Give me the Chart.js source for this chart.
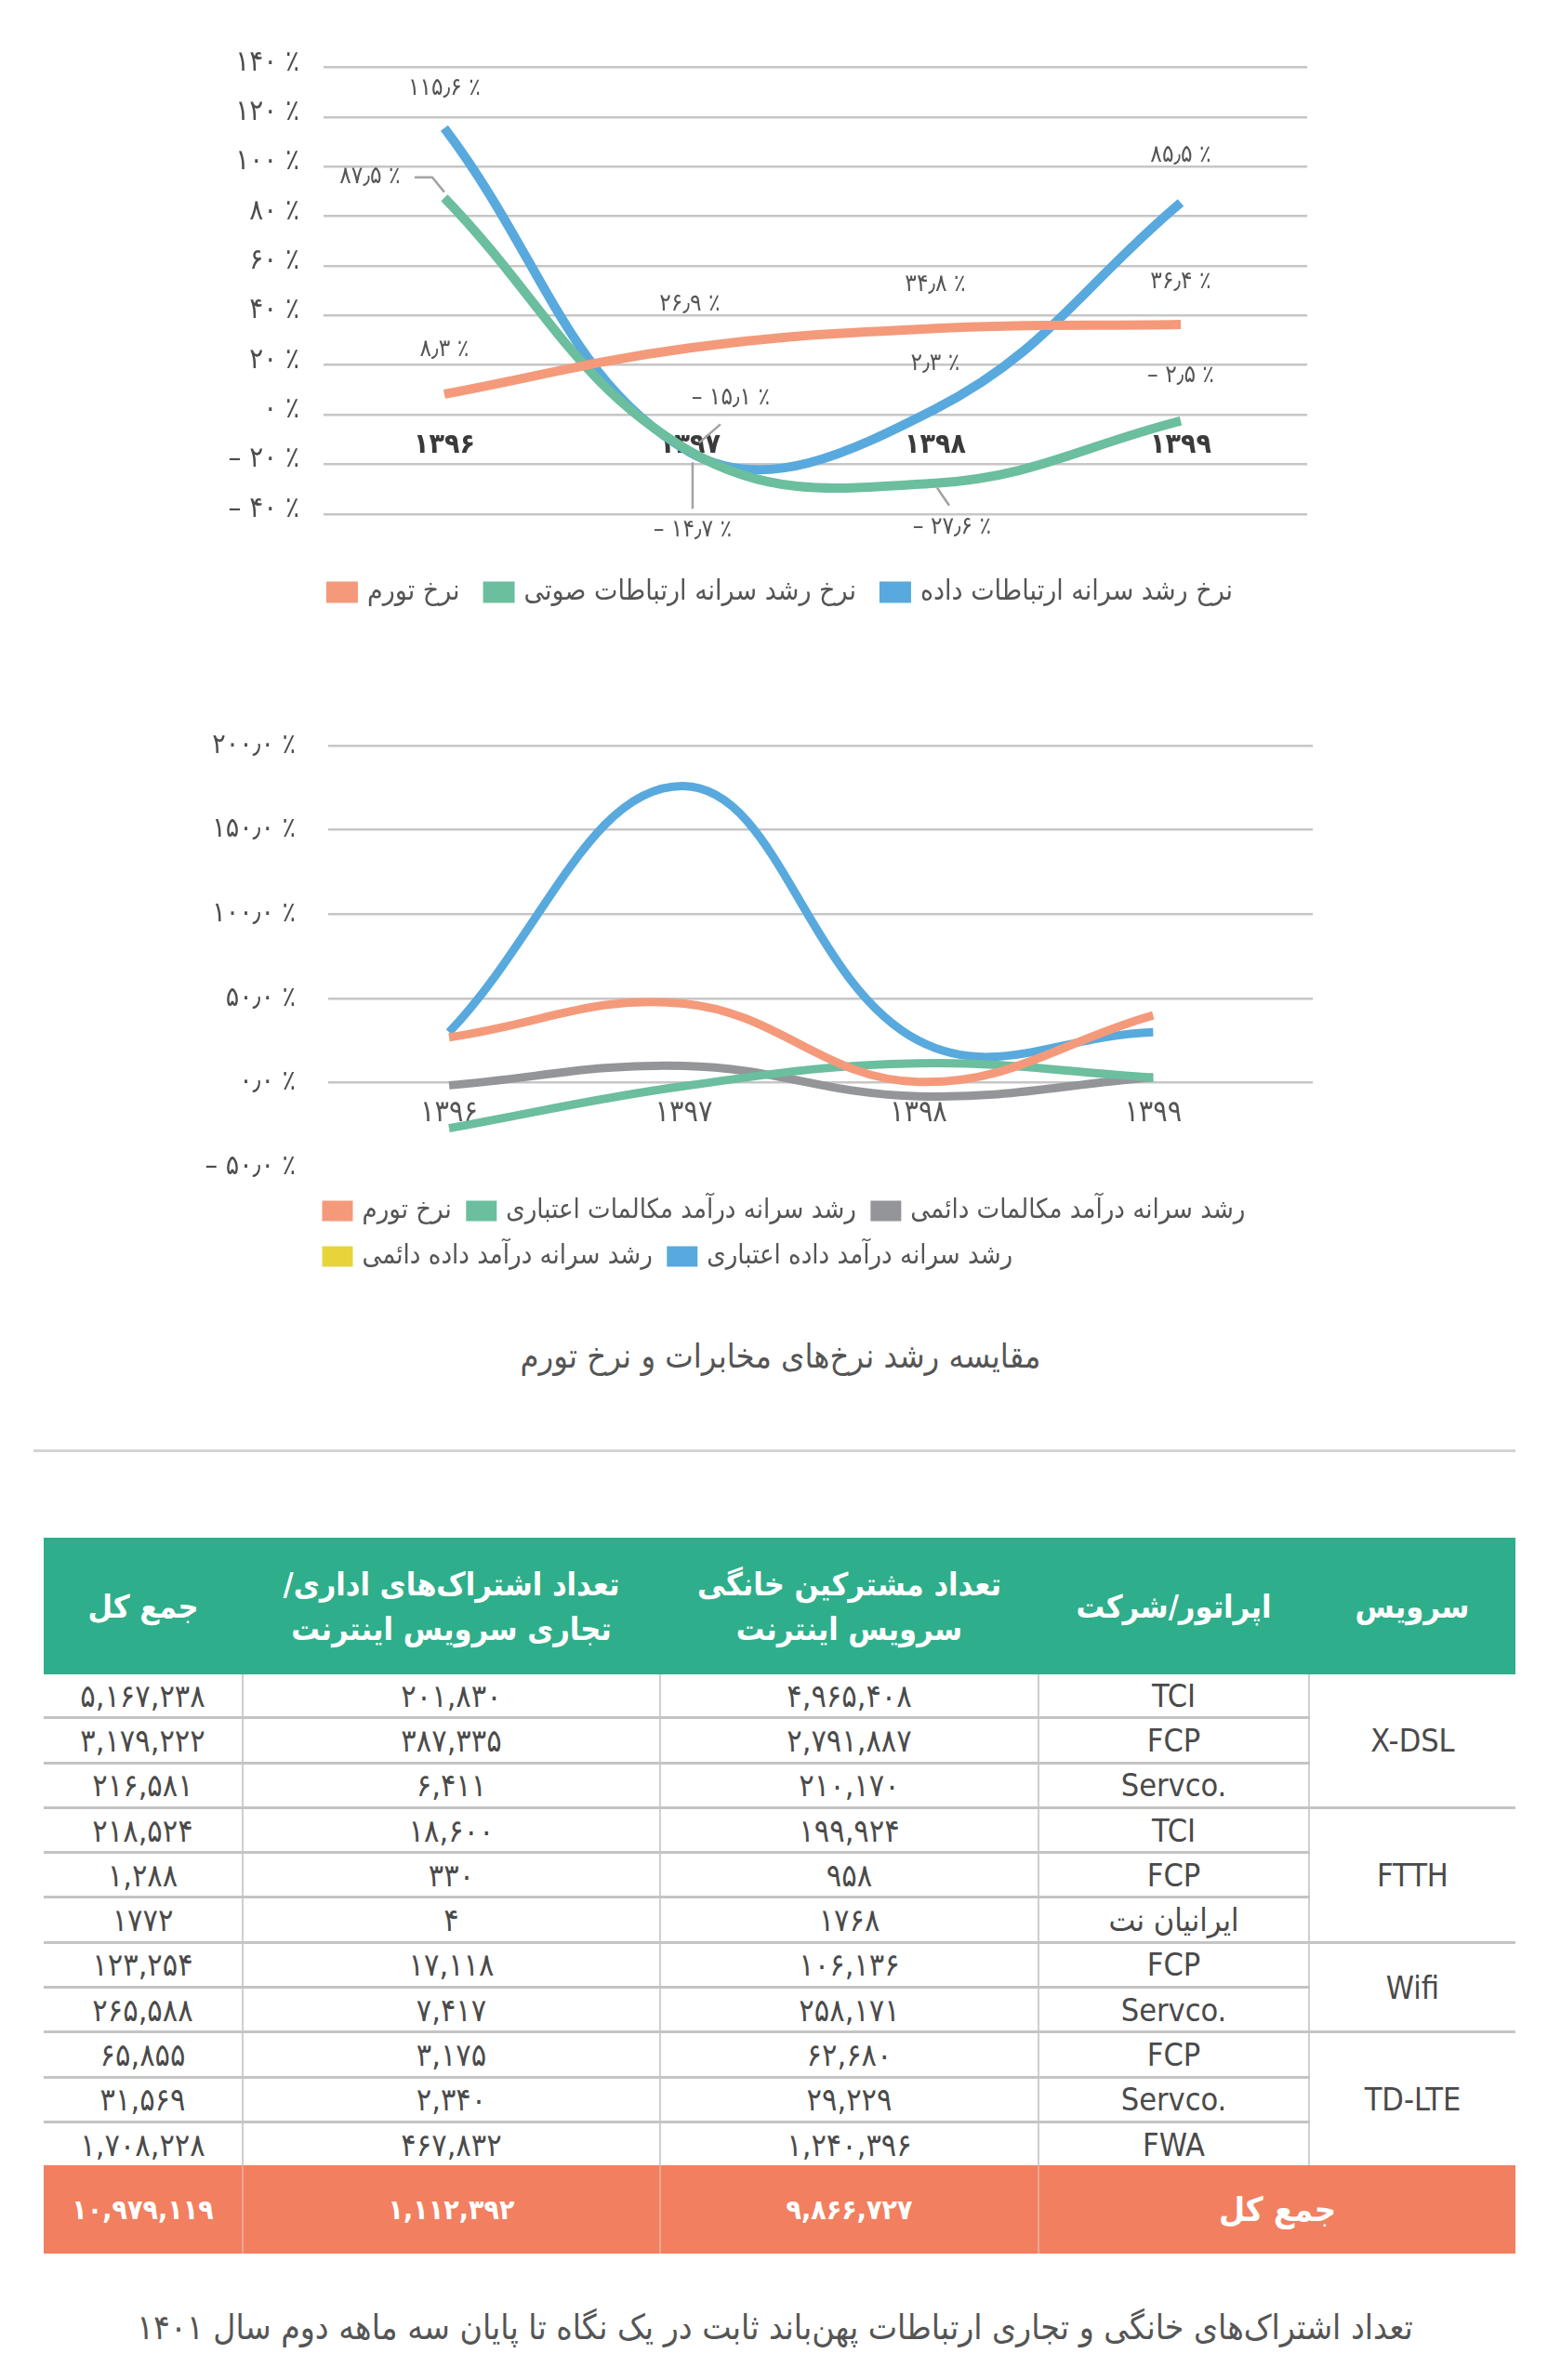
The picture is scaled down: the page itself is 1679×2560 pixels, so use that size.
<!DOCTYPE html>
<html lang="fa">
<head>
<meta charset="utf-8">
<title>مقایسه رشد نرخ‌های مخابرات و نرخ تورم</title>
<script src="https://cdn.jsdelivr.net/npm/chart.js"></script>
<style>
  body { margin: 0; width: 1679px; height: 2560px; background: #fff; position: relative;
         font-family: "DejaVu Sans Condensed", "DejaVu Sans", sans-serif; }
  .chart-box { position: absolute; }
  #topBox { left: 200px; top: 28px; width: 1230px; height: 634px; }
  #bottomBox { left: 200px; top: 749px; width: 1236px; height: 627px; }
  .caption { position: absolute; left: 0; width: 1679px; text-align: center; direction: rtl; color: #555; }
  #cap1 { top: 1436px; font-size: 36px; line-height: 46px; }
  #cap2 { top: 2480px; font-size: 37px; line-height: 48px; left: -6px; }
  #rule { position: absolute; left: 36px; top: 1559px; width: 1594px; height: 3px; background: #d4d4d4; }
  table { position: absolute; left: 47px; top: 1654px; width: 1583px; border-collapse: collapse;
          table-layout: fixed; direction: rtl; }
  th { background: #2eae8a; color: #fff; font-weight: bold; font-size: 34px; line-height: 48px;
       height: 147px; padding: 0; text-align: center; }
  td { height: 45.3px; line-height: 44px; padding: 0; text-align: center; font-size: 34px; color: #4a4a4a;
       unicode-bidi: plaintext;
       border-left: 2px solid #cfcfcf; border-bottom: 3px solid #c4c4c4; }
  td.last-col { border-left: none; }
  tr.last-row td { border-bottom: none; }
  td.group.end { border-bottom: none; }
  tr.total td { background: #f27f5f; color: #fff; font-weight: bold; font-size: 30px; height: 95px;
                border-bottom: none; border-left: 2px solid #e7a892; }
  tr.total td.last-col { border-left: none; }
  tr.total td.label { font-size: 36px; }
</style>
</head>
<body>
<div id="topBox" class="chart-box"><canvas id="topChart"></canvas></div>
<div id="bottomBox" class="chart-box"><canvas id="bottomChart"></canvas></div>
<div id="cap1" class="caption">مقایسه رشد نرخ‌های مخابرات و نرخ تورم</div>
<div id="rule"></div>
<table id="subsTable"></table>
<div id="cap2" class="caption">تعداد اشتراک‌های خانگی و تجاری ارتباطات پهن‌باند ثابت در یک نگاه تا پایان سه ماهه دوم سال ۱۴۰۱</div>

<script>
// ---- data ----
const years = ['۱۳۹۶', '۱۳۹۷', '۱۳۹۸', '۱۳۹۹'];

// top chart: growth rates (%)
const inflationTop = [8.3, 26.9, 34.8, 36.4];
const voiceGrowth = [87.5, -14.7, -27.6, -2.5];
const dataGrowth = [115.6, -15.1, 2.3, 85.5];

// bottom chart: per-capita revenue growth (%)
const inflationBottom = [27, 47, 0.5, 40];
const voicePrepaid = [-27, -2, 11.5, 3];
const voicePostpaid = [-1.5, 10, -8, 3.3];
const dataPostpaid = [null, null, null, null];
const dataPrepaid = [30, 176, 25, 30];

// table
const serviceGroups = [['X-DSL', 3], ['FTTH', 3], ['Wifi', 2], ['TD-LTE', 3]];
const operators = ['TCI', 'FCP', 'Servco.', 'TCI', 'FCP', 'ایرانیان نت', 'FCP', 'Servco.', 'FCP', 'Servco.', 'FWA'];
const homeSubs = ['4,965,408', '2,791,887', '210,170', '199,924', '958', '1768', '106,136', '258,171', '62,680', '29,229', '1,240,396'];
const businessSubs = ['201,830', '387,335', '6,411', '18,600', '330', '4', '17,118', '7,417', '3,175', '2,340', '467,832'];
const rowTotals = ['5,167,238', '3,179,222', '216,581', '218,524', '1,288', '1772', '123,254', '265,588', '65,855', '31,569', '1,708,228'];
const grandTotals = ['9,866,727', '1,112,392', '10,979,119'];

// ---- helpers ----
const faDigits = s => String(s).replace(/\d/g, d => '۰۱۲۳۴۵۶۷۸۹'[d]);
function pct(v, decimals) {
  const s = Math.abs(v).toFixed(decimals).replace('.', '٫');
  return (v < 0 ? '– ' : '') + faDigits(s) + ' ٪';
}
const asPoints = arr => arr.map((v, i) => ({ x: i, y: v }));

const FONT = '"DejaVu Sans Condensed", "DejaVu Sans", sans-serif';
Chart.defaults.font.family = FONT;
Chart.defaults.color = '#555';

const BLUE = '#58a9dd', GREEN = '#6bbe9e', ORANGE = '#f49a7b', GRAY = '#949598', YELLOW = '#e6d43a';

function line(label, values, color, width) {
  return {
    label, data: asPoints(values), borderColor: color, backgroundColor: color,
    borderWidth: width, pointRadius: 0, tension: 0.4, fill: false
  };
}

// value labels with leader lines (offsets from the point, px)
const pointLabels = {
  id: 'pointLabels',
  afterDatasetsDraw(chart, args, opts) {
    if (!opts.spots) return;
    const { ctx } = chart;
    ctx.save();
    ctx.font = opts.font;
    ctx.fillStyle = opts.color;
    ctx.textAlign = 'center';
    ctx.textBaseline = 'middle';
    ctx.strokeStyle = '#a3a3a3';
    ctx.lineWidth = 2.5;
    chart.data.datasets.forEach((ds, di) => {
      const spots = opts.spots[di];
      chart.getDatasetMeta(di).data.forEach((pt, i) => {
        const s = spots[i];
        if (s.lead) {
          ctx.beginPath();
          s.lead.forEach(([lx, ly], k) => k ? ctx.lineTo(pt.x + lx, pt.y + ly) : ctx.moveTo(pt.x + lx, pt.y + ly));
          ctx.stroke();
        }
        ctx.fillText(pct(ds.data[i].y, 1), pt.x + s.dx, pt.y + s.dy);
      });
    });
    ctx.restore();
  }
};

// move / align legend relative to plot area
const legendShift = {
  id: 'legendShift',
  afterLayout(chart, args, opts) {
    const lg = chart.legend;
    if (opts.alignToArea) {
      lg.left = chart.chartArea.left - lg.options.labels.padding - 2;
    } else if (opts.dx) {
      lg.left += opts.dx; lg.right += opts.dx;
    }
  }
};

function legendOpts(align, gap, size, pad) {
  return {
    position: 'bottom', align, fullSize: true,
    title: { display: true, text: '', font: { size: 1 }, padding: { top: gap, bottom: 0 } },
    labels: { boxWidth: 24, boxHeight: 13, padding: pad, color: '#555', font: { size } }
  };
}

// ---- top chart ----
new Chart(document.getElementById('topChart'), {
  type: 'line',
  data: {
    datasets: [
      line('نرخ تورم', inflationTop, ORANGE, 10),
      line('نرخ رشد سرانه ارتباطات صوتی', voiceGrowth, GREEN, 10),
      line('نرخ رشد سرانه ارتباطات داده', dataGrowth, BLUE, 10)
    ]
  },
  plugins: [pointLabels, legendShift],
  options: {
    responsive: true, maintainAspectRatio: false, animation: false,
    layout: { padding: { top: 18, right: 24, left: 0, bottom: 0 } },
    scales: {
      x: {
        type: 'linear', min: -0.492, max: 3.515, position: { y: 0 },
        afterBuildTicks: axis => { axis.ticks = years.map((_, i) => ({ value: i })); },
        ticks: { callback: v => years[v], padding: 15, maxRotation: 0, color: '#3a3a3a',
                 font: { size: 30, weight: 'bold' } },
        grid: { display: false, drawTicks: false },
        border: { display: false }
      },
      y: {
        min: -40, max: 140,
        afterFit: s => { s.width = 148; },
        ticks: { stepSize: 20, callback: v => pct(v, 0), padding: 26, labelOffset: -5,
                 color: '#4d4d4d', font: { size: 31 } },
        grid: { color: '#c6c6c6', lineWidth: 2.5, drawTicks: false },
        border: { display: false }
      }
    },
    plugins: {
      legend: legendOpts('center', 38, 30, 30),
      legendShift: { dx: 38 },
      tooltip: { enabled: false },
      pointLabels: {
        font: '26px ' + FONT, color: '#555',
        spots: [
          [{ dx: 0, dy: -48 }, { dx: 0, dy: -47 }, { dx: 0, dy: -47 }, { dx: 0, dy: -46 }],
          [{ dx: -80, dy: -22, lead: [[-32, -22], [-13, -22], [0, -6]] },
           { dx: 3, dy: 85, lead: [[3, 12], [3, 62]] },
           { dx: 18, dy: 48, lead: [[2, 5], [15, 24]] },
           { dx: 0, dy: -49 }],
          [{ dx: 0, dy: -42 },
           { dx: 44, dy: -58, lead: [[33, -30], [10, -10]] },
           { dx: 0, dy: -49 },
           { dx: 0, dy: -51 }]
        ]
      }
    }
  }
});

// ---- bottom chart ----
new Chart(document.getElementById('bottomChart'), {
  type: 'line',
  data: {
    datasets: [
      line('نرخ تورم', inflationBottom, ORANGE, 9),
      line('رشد سرانه درآمد مکالمات اعتباری', voicePrepaid, GREEN, 9),
      line('رشد سرانه درآمد مکالمات دائمی', voicePostpaid, GRAY, 9),
      line('رشد سرانه درآمد داده دائمی', dataPostpaid, YELLOW, 9),
      line('رشد سرانه درآمد داده اعتباری', dataPrepaid, BLUE, 9)
    ]
  },
  plugins: [legendShift],
  options: {
    responsive: true, maintainAspectRatio: false, animation: false,
    layout: { padding: { top: 13, right: 24, left: 0, bottom: 0 } },
    scales: {
      x: {
        type: 'linear', min: -0.515, max: 3.68, position: { y: 0 },
        afterBuildTicks: axis => { axis.ticks = years.map((_, i) => ({ value: i })); },
        ticks: { callback: v => years[v], padding: 14, maxRotation: 0, color: '#555', font: { size: 32 } },
        grid: { display: false, drawTicks: false },
        border: { display: false }
      },
      y: {
        min: -50, max: 200,
        afterFit: s => { s.width = 153; },
        ticks: { stepSize: 50, callback: v => pct(v, 1), padding: 35, color: '#4d4d4d', font: { size: 30 } },
        grid: { color: c => c.tick.value < 0 ? 'rgba(0,0,0,0)' : '#c6c6c6', lineWidth: 2.5, drawTicks: false },
        border: { display: false }
      }
    },
    plugins: {
      legend: legendOpts('start', 11.5, 29, 20),
      legendShift: { alignToArea: true },
      tooltip: { enabled: false }
    }
  }
});

// ---- table ----
(function buildTable() {
  const t = document.getElementById('subsTable');
  const colWidths = [222, 291, 407, 449, 214];
  let html = '<colgroup>' + colWidths.map(w => '<col style="width:' + w + 'px">').join('') + '</colgroup>';
  html += '<tr><th>سرویس</th><th>اپراتور/شرکت</th><th>تعداد مشترکین خانگی<br>سرویس اینترنت</th>' +
          '<th>تعداد اشتراک‌های اداری/<br>تجاری سرویس اینترنت</th><th>جمع کل</th></tr>';
  let r = 0;
  serviceGroups.forEach(([name, span], gi) => {
    for (let k = 0; k < span; k++, r++) {
      const isLast = r === operators.length - 1;
      html += '<tr' + (isLast ? ' class="last-row"' : '') + '>';
      if (k === 0) {
        html += '<td class="group' + (gi === serviceGroups.length - 1 ? ' end' : '') + '" rowspan="' + span + '">' + name + '</td>';
      }
      html += '<td>' + operators[r] + '</td>' +
              '<td>' + faDigits(homeSubs[r]) + '</td>' +
              '<td>' + faDigits(businessSubs[r]) + '</td>' +
              '<td class="last-col">' + faDigits(rowTotals[r]) + '</td></tr>';
    }
  });
  html += '<tr class="total"><td class="label" colspan="2">جمع کل</td>' +
          grandTotals.map((v, i) => '<td' + (i === 2 ? ' class="last-col"' : '') + '>' + faDigits(v) + '</td>').join('') + '</tr>';
  t.innerHTML = html;
})();
</script>
</body>
</html>
